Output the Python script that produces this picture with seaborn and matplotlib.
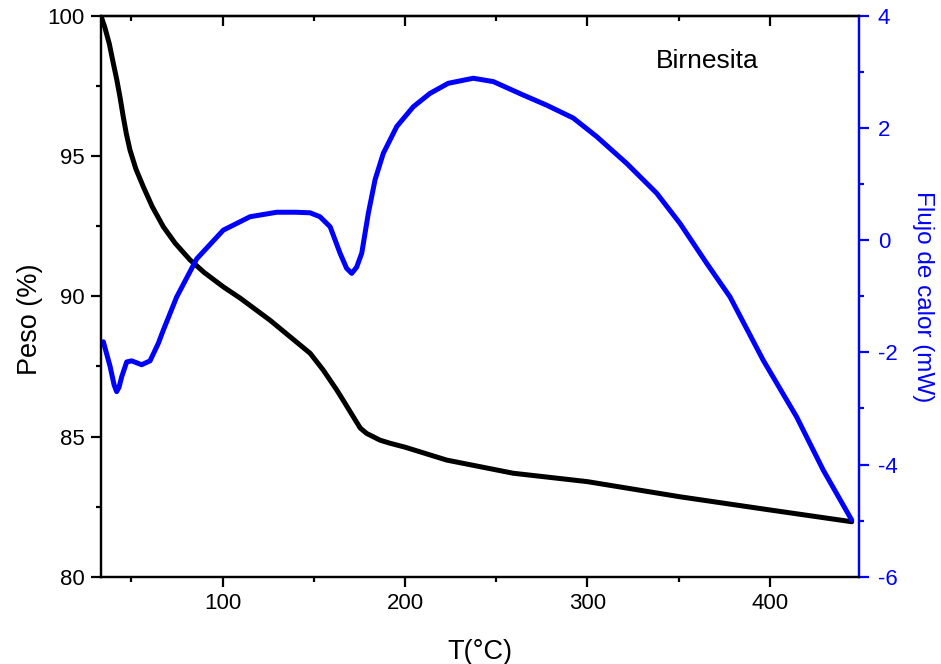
import matplotlib
matplotlib.use("Agg")
import matplotlib.pyplot as plt
from matplotlib.ticker import MultipleLocator
import seaborn as sns
import pandas as pd

# TGA curve (weight %) - left axis
t_tga = [33.4, 35.5, 38.0, 40.2, 42.0, 43.8, 45.6, 47.3, 49.3, 52.5, 56.6, 61.5, 67.6,
         74, 82.2, 90, 100.4, 109.6, 126, 148, 155.2, 162.6, 167, 171.7, 175.5, 179,
         186.3, 191.8, 200, 222.8, 259.3, 300, 350.7, 400, 444.8]
peso = [100, 99.6, 99.0, 98.3, 97.75, 97.12, 96.41, 95.8, 95.22, 94.55, 93.91, 93.2,
        92.48, 91.9, 91.30, 90.85, 90.34, 89.94, 89.15, 87.97, 87.37, 86.66, 86.2,
        85.70, 85.3, 85.11, 84.87, 84.76, 84.62, 84.16, 83.69, 83.39, 82.85, 82.38,
        81.96]

# DSC curve (heat flow mW) - right axis
t_dsc = [34.7, 38.4, 40.6, 42, 43.3, 44.8, 47.5, 50.2, 55.7, 60.3, 64.8, 67.6, 74.9,
         85.9, 100.4, 115.1, 129.7, 140, 148, 153.4, 159, 164.4, 168.0, 170.8, 173.5,
         176.3, 179.9, 183.6, 188.1, 195.5, 204.5, 213.7, 223.7, 237.4, 248.4, 264.8,
         277.6, 292.2, 305, 321.5, 337.9, 350.7, 365.3, 378.1, 396.3, 414.6, 429.2,
         444.8]
flujo = [-1.81, -2.25, -2.58, -2.70, -2.62, -2.43, -2.17, -2.15, -2.22, -2.15, -1.84,
         -1.60, -1.01, -0.33, 0.18, 0.42, 0.50, 0.50, 0.49, 0.42, 0.24, -0.23, -0.50,
         -0.59, -0.48, -0.23, 0.48, 1.08, 1.55, 2.03, 2.38, 2.62, 2.80, 2.89, 2.83,
         2.59, 2.41, 2.18, 1.85, 1.37, 0.84, 0.30, -0.41, -1.01, -2.14, -3.15, -4.10,
         -4.99]

x_ticks = [100, 200, 300, 400]
y_left_ticks = [80, 85, 90, 95, 100]
y_right_ticks = [-6, -4, -2, 0, 2, 4]

sns.set_style("ticks")
plt.rcParams['font.family'] = ['Liberation Sans', 'DejaVu Sans']
plt.rcParams['axes.unicode_minus'] = False
plt.rcParams['text.color'] = 'black'
plt.rcParams['axes.labelcolor'] = 'black'

BLUE = "#0000ff"

df_tga = pd.DataFrame({"T": t_tga, "Peso": peso})
df_dsc = pd.DataFrame({"T": t_dsc, "Flujo": flujo})

fig = plt.figure(figsize=(9.41, 6.64), dpi=100)
ax = fig.add_axes([0.1073, 0.1315, 0.8056, 0.8444])
ax2 = ax.twinx()

sns.lineplot(data=df_tga, x="T", y="Peso", ax=ax, color="black", lw=3.6, sort=False)
sns.lineplot(data=df_dsc, x="T", y="Flujo", ax=ax2, color=BLUE, lw=3.6, sort=False)

ax.set_xlim(33.4, 448.8)
ax.set_ylim(80, 100)
ax2.set_ylim(-6, 4)

ax.set_xticks(x_ticks)
ax.xaxis.set_minor_locator(MultipleLocator(50))
ax.set_yticks(y_left_ticks)
ax.yaxis.set_minor_locator(MultipleLocator(2.5))
ax2.set_yticks(y_right_ticks)
ax2.yaxis.set_minor_locator(MultipleLocator(1))

ax.set_xlabel("T(°C)", fontsize=19.5, labelpad=18, color="black")
ax.set_ylabel("Peso (%)", fontsize=19.5, color="black")
ax.yaxis.set_label_coords(-0.077, 0.46)
ax2.set_ylabel("Flujo de calor (mW)", fontsize=17.5, color=BLUE, rotation=270,
               labelpad=26)

for a in (ax, ax2):
    for s in a.spines.values():
        s.set_linewidth(1.6)
        s.set_color("black")
ax2.spines["right"].set_color(BLUE)

ax.tick_params(axis="both", which="major", direction="out", length=7, width=1.6,
               labelsize=16, colors="black", pad=5)
ax.tick_params(axis="both", which="minor", direction="out", length=3.8, width=1.6,
               colors="black")
ax2.tick_params(axis="y", which="major", direction="out", length=7, width=1.6,
                labelsize=16, colors=BLUE, pad=6.5)
ax2.tick_params(axis="y", which="minor", direction="out", length=3.8, width=1.6,
                colors=BLUE)

# top mirrored ticks pointing inward
sec = ax.secondary_xaxis("top")
sec.set_xticks(x_ticks)
sec.xaxis.set_minor_locator(MultipleLocator(50))
sec.tick_params(axis="x", which="major", direction="in", length=7, width=1.6,
                labeltop=False, colors="black")
sec.tick_params(axis="x", which="minor", direction="in", length=3.8, width=1.6,
                colors="black")
sec.spines["top"].set_linewidth(1.6)
sec.spines["top"].set_color("black")

ax.text(0.80, 0.919, "Birnesita", transform=ax.transAxes, fontsize=19,
        ha="center", va="center", color="black")

fig.savefig("out.png", dpi=100)
